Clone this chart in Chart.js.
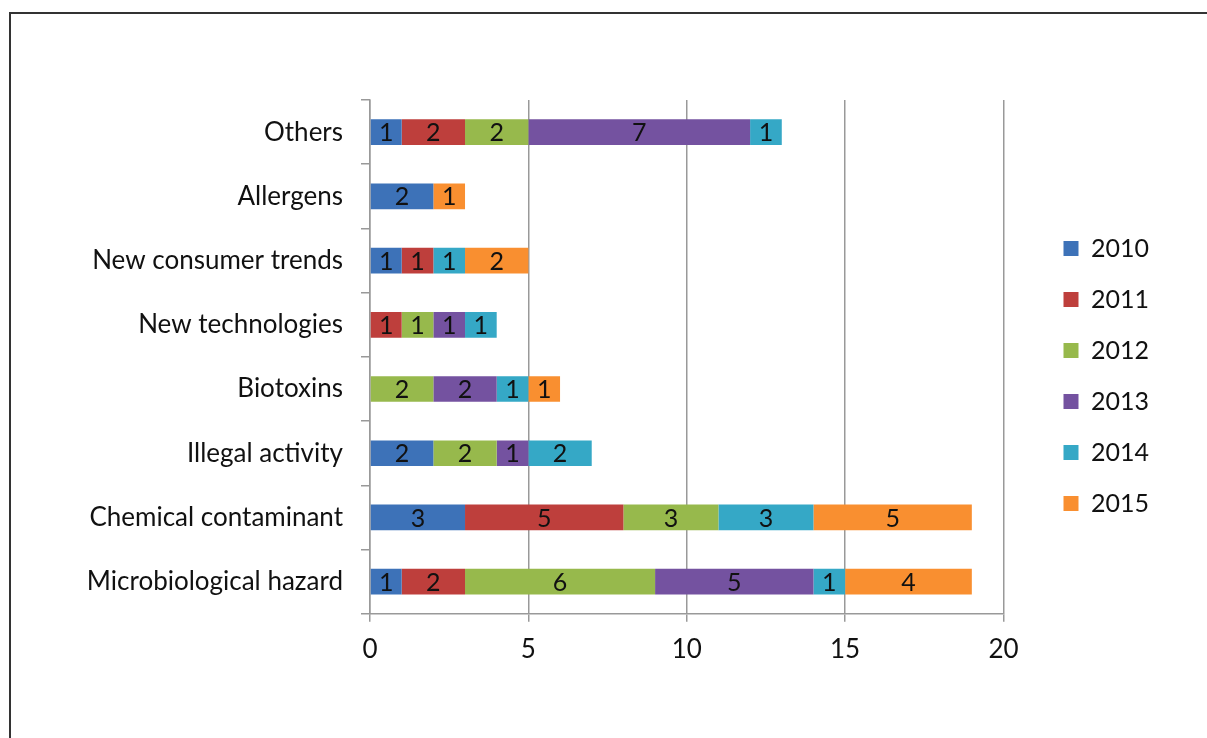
<!DOCTYPE html>
<html>
<head>
<meta charset="utf-8">
<script src="https://cdn.jsdelivr.net/npm/chart.js@4"></script>
<style>
  html, body { margin: 0; padding: 0; background: #fff; }
  #frame { position: absolute; left: 9px; top: 12px; width: 1220px; height: 760px;
           border-left: 2px solid #333; border-top: 2px solid #333; }
  #wrap { position: absolute; left: 0; top: 0; width: 1207px; height: 738px; }
</style>
</head>
<body>
<div id="frame"></div>
<div id="wrap"><canvas id="chart" width="1207" height="738"></canvas></div>
<script>
// Categories, top to bottom
const categories = ['Others', 'Allergens', 'New consumer trends', 'New technologies',
  'Biotoxins', 'Illegal activity', 'Chemical contaminant', 'Microbiological hazard'];

// Series values per year (null = no segment)
const y2010 = [1, 2, 1, null, null, 2, 3, 1];
const y2011 = [2, null, 1, 1, null, null, 5, 2];
const y2012 = [2, null, null, 1, 2, 2, 3, 6];
const y2013 = [7, null, null, 1, 2, 1, null, 5];
const y2014 = [1, null, 1, 1, 1, 2, 3, 1];
const y2015 = [null, 1, 2, null, 1, null, 5, 4];

const years = ['2010', '2011', '2012', '2013', '2014', '2015'];
const colors = ['#3d72b8', '#be3f3c', '#97b94c', '#7452a0', '#35a8c6', '#f98f30'];
const xTicks = [0, 5, 10, 15, 20];

const FONT = 'Lato, "Open Sans", sans-serif';

// Value labels centered in each segment
const segmentLabels = {
  id: 'segmentLabels',
  afterDatasetsDraw(chart) {
    const ctx = chart.ctx;
    ctx.save();
    ctx.fillStyle = '#111';
    ctx.font = '25px ' + FONT;
    ctx.textAlign = 'center';
    ctx.textBaseline = 'middle';
    chart.data.datasets.forEach((ds, i) => {
      chart.getDatasetMeta(i).data.forEach((bar, j) => {
        const v = ds.data[j];
        if (v == null) return;
        ctx.fillText(v, (bar.x + bar.base) / 2, bar.y + 1);
      });
    });
    ctx.restore();
  }
};

const series = [y2010, y2011, y2012, y2013, y2014, y2015];

new Chart(document.getElementById('chart'), {
  type: 'bar',
  data: {
    labels: categories,
    datasets: series.map((d, i) => ({
      label: years[i],
      data: d,
      backgroundColor: colors[i],
      barPercentage: 0.4,
      categoryPercentage: 1
    }))
  },
  options: {
    indexAxis: 'y',
    responsive: false,
    animation: false,
    layout: { padding: { left: 87, right: 48, top: 100, bottom: 61 } },
    plugins: {
      tooltip: { enabled: false },
      legend: {
        position: 'right',
        align: 'start',
        title: { display: true, text: '', font: { size: 10 }, padding: { top: 98, bottom: 0 } },
        labels: {
          boxWidth: 15, boxHeight: 15, padding: 26,
          color: '#111',
          font: { family: FONT, size: 25 }
        }
      }
    },
    scales: {
      x: {
        stacked: true,
        min: 0, max: 20,
        afterBuildTicks: s => { s.ticks = xTicks.map(v => ({ value: v })); },
        grid: { color: '#999', lineWidth: 1.5, tickLength: 8 },
        border: { color: '#999', width: 1.5 },
        ticks: { color: '#111', padding: 12, font: { family: FONT, size: 26 } }
      },
      y: {
        stacked: true,
        afterFit: s => { s.width = 283; },
        grid: { drawOnChartArea: false, color: '#999', lineWidth: 1.5, tickLength: 9, offset: true },
        border: { color: '#999', width: 1.5 },
        ticks: { color: '#111', padding: 18, font: { family: FONT, size: 26 } }
      },
      // empty spacer between plot and legend
      gap: {
        axis: 'y',
        position: 'right',
        grid: { display: false },
        border: { display: false },
        ticks: { display: false },
        afterFit: s => { s.width = 34; }
      }
    }
  },
  plugins: [segmentLabels]
});
</script>
</body>
</html>
